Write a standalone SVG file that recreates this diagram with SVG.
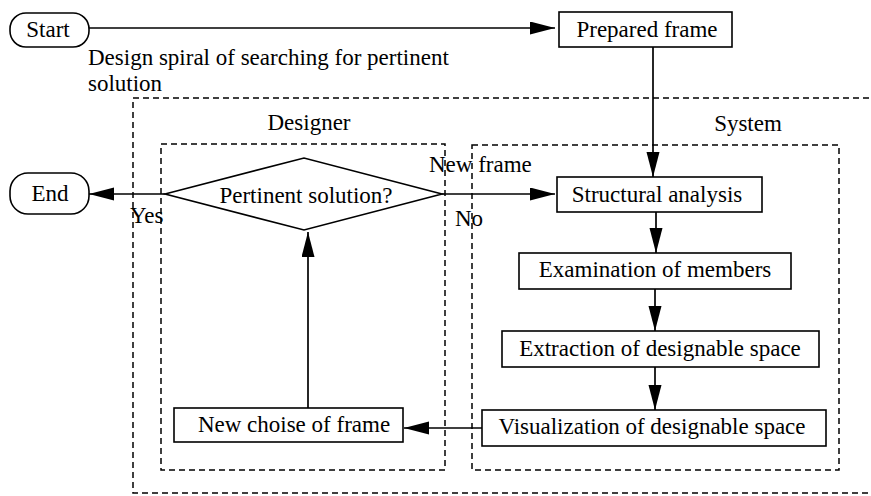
<svg xmlns="http://www.w3.org/2000/svg" width="871" height="496" viewBox="0 0 871 496" font-family="'Liberation Serif', 'Times New Roman', Times, serif" font-size="23">
<style>
text{font-family:'Liberation Serif','Times New Roman',Times,serif;font-size:23px;fill:#000}
.m{text-anchor:middle}
.box{fill:#fff;stroke:#000;stroke-width:1.6}
.dash{fill:none;stroke:#000;stroke-width:1.5;stroke-dasharray:6 4}
.ln{fill:none;stroke:#000;stroke-width:1.7}
.arr{marker-end:url(#ah)}
</style>
<defs>
<marker id="ah" markerUnits="userSpaceOnUse" markerWidth="26" markerHeight="14" refX="25" refY="6.5" orient="auto">
<path d="M0,0 L25,6.5 L0,13 z" fill="#000"/>
</marker>
</defs>
<rect fill="#fff" width="871" height="496"/>
<g id="regions">
<rect class="dash" x="133" y="98" width="750" height="395"/>
<rect class="dash" x="161" y="144" width="284" height="326"/>
<rect class="dash" x="472" y="145" width="367" height="325"/>
<text x="309" y="130" class="m">Designer</text>
<text x="748" y="131" class="m">System</text>
<text x="88" y="65">Design spiral of searching for pertinent</text>
<text x="88" y="91">solution</text>
</g>
<g id="connectors">
<line class="ln arr" x1="89" y1="28" x2="555" y2="28"/>
<line class="ln arr" x1="653" y1="47" x2="653" y2="177"/>
<line class="ln arr" x1="165" y1="194" x2="89" y2="194"/>
<line class="ln arr" x1="442" y1="194" x2="555" y2="194"/>
<line class="ln arr" x1="656" y1="212" x2="656" y2="253"/>
<line class="ln arr" x1="655" y1="289" x2="655" y2="331"/>
<line class="ln arr" x1="655" y1="367" x2="655" y2="410"/>
<line class="ln arr" x1="482" y1="428" x2="404" y2="428"/>
<line class="ln arr" x1="308" y1="408" x2="308" y2="232"/>
<text x="130" y="223">Yes</text>
<text x="429" y="172">New frame</text>
<text x="455" y="226">No</text>
</g>
<g id="start">
<rect class="box" x="10" y="13" width="79" height="34" rx="16"/>
<text x="48" y="37" class="m">Start</text>
</g>
<g id="end">
<rect class="box" x="10" y="173" width="79" height="41" rx="18"/>
<text x="50" y="201" class="m">End</text>
</g>
<g id="prepared">
<rect class="box" x="559" y="12" width="173" height="35"/>
<text x="647" y="37" class="m">Prepared frame</text>
</g>
<g id="decision">
<polygon class="box" points="165,194 304,158 442,194 304,230"/>
<text x="306" y="203" class="m">Pertinent solution?</text>
</g>
<g id="structural">
<rect class="box" x="557" y="177" width="205" height="35"/>
<text x="657" y="202" class="m">Structural analysis</text>
</g>
<g id="examination">
<rect class="box" x="519" y="253" width="272" height="36"/>
<text x="655" y="277" class="m">Examination of members</text>
</g>
<g id="extraction">
<rect class="box" x="502" y="331" width="317" height="36"/>
<text x="660" y="356" class="m">Extraction of designable space</text>
</g>
<g id="visualization">
<rect class="box" x="482" y="410" width="344" height="36"/>
<text x="652" y="434" class="m">Visualization of designable space</text>
</g>
<g id="newchoice">
<rect class="box" x="174" y="408" width="229" height="34"/>
<text x="294" y="432" class="m">New choise of frame</text>
</g>
</svg>
